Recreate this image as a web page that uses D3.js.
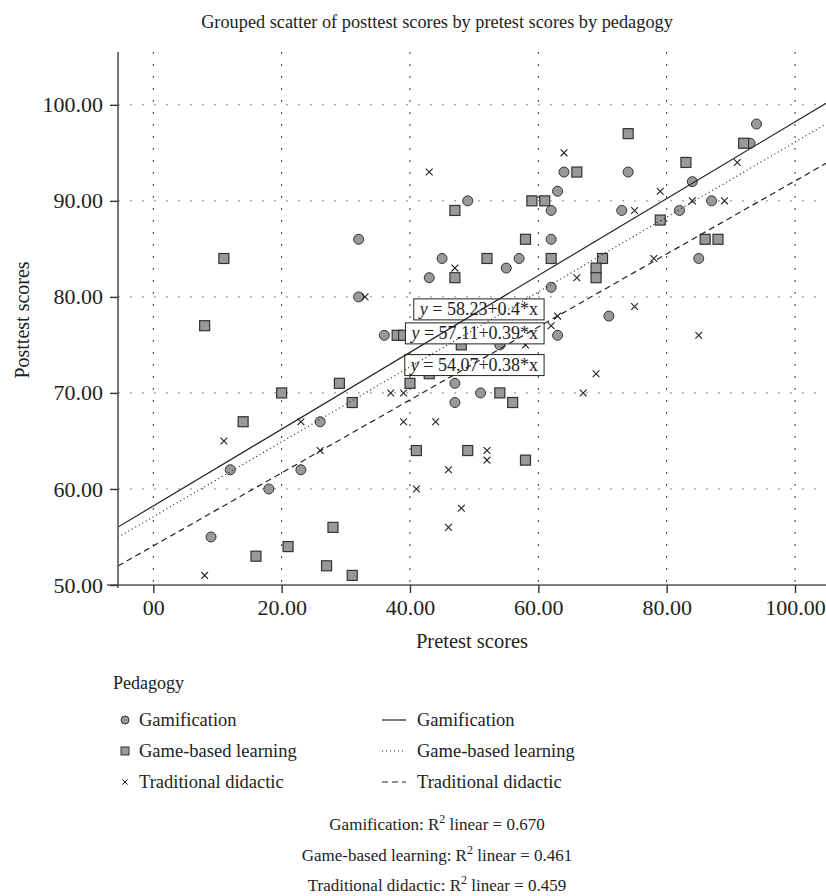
<!DOCTYPE html>
<html>
<head>
<meta charset="utf-8">
<style>
  body { margin: 0; background: #fff; }
  text { font-family: "Liberation Serif", "Times New Roman", serif; fill: #222; }
</style>
</head>
<body>
<svg width="826" height="896"></svg>
<script src="https://cdnjs.cloudflare.com/ajax/libs/d3/7.8.5/d3.min.js"></script>
<script>

    // pretest, posttest pairs per pedagogy
    var gamification = [
        [32,86],[32,80],[49,90],[45,84],[43,82],[55,83],[57,84],[62,89],[63,91],[64,93],
        [62,86],[62,81],[74,93],[94,98],[93,96],[84,92],[73,89],[82,89],[87,90],[85,84],
        [71,78],[26,67],[12,62],[23,62],[18,60],[9,55],[36,76],[63,76],[54,75],[47,71],
        [51,70],[47,69]
    ];
    var gameBased = [
        [11,84],[8,77],[47,89],[47,82],[52,84],[58,86],[59,90],[61,90],[66,93],[62,84],
        [74,97],[83,94],[92,96],[79,88],[86,86],[88,86],[70,84],[69,83],[69,82],[29,71],
        [20,70],[31,69],[14,67],[28,56],[21,54],[16,53],[27,52],[31,51],[38,76],[39,76],
        [48,75],[43,72],[40,71],[54,70],[56,69],[41,64],[49,64],[58,63]
    ];
    var traditional = [
        [43,93],[33,80],[47,83],[64,95],[66,82],[63,78],[62,77],[91,94],[79,91],[75,89],
        [84,90],[89,90],[78,84],[75,79],[23,67],[11,65],[26,64],[8,51],[58,75],[37,70],
        [39,70],[39,67],[44,67],[52,64],[52,63],[46,62],[41,60],[48,58],[46,56],[85,76],
        [69,72],[67,70]
    ];

    var groups = ["Gamification", "Game-based learning", "Traditional didactic"];
    var intercepts = [58.23, 57.11, 54.07];
    var slopes = [0.4, 0.39, 0.38];
    var slopeText = ["0.4", "0.39", "0.38"];
    var rSquared = ["0.670", "0.461", "0.459"];
    // where the equation labels sit (right edge x, centre y) in data units
    var labelAnchors = [[60.9, 78.7], [60.9, 76.2], [60.9, 72.9]];

    var xTicks = [0, 20, 40, 60, 80, 100];
    var xTickLabels = ["00", "20.00", "40.00", "60.00", "80.00", "100.00"];
    var yTicks = [50, 60, 70, 80, 90, 100];
    var yTickLabels = ["50.00", "60.00", "70.00", "80.00", "90.00", "100.00"];

    var svg = d3.select("svg"),
        margin = {top: 52, right: 0, bottom: 311, left: 118},
        width = +svg.attr("width") - margin.left - margin.right,
        height = +svg.attr("height") - margin.top - margin.bottom,
        g = svg.append("g").attr("transform", "translate(" + margin.left + "," + margin.top + ")");

    var x = d3.scaleLinear().domain([-5.5, 104.83]).range([0, width]);
    var y = d3.scaleLinear().domain([50, 105.5]).range([height, 0]);

    svg.append("defs").append("clipPath").attr("id", "plot")
        .append("rect").attr("width", width).attr("height", height);

    // title
    svg.append("text")
        .attr("x", 437).attr("y", 28)
        .attr("text-anchor", "middle")
        .style("font-size", "18.3px")
        .text("Grouped scatter of posttest scores by pretest scores by pedagogy");

    // grid
    g.append("g").selectAll("line").data(xTicks).enter().append("line")
        .attr("x1", function(d) { return x(d); }).attr("x2", function(d) { return x(d); })
        .attr("y1", 0).attr("y2", height)
        .attr("stroke", "#333").attr("stroke-width", 1).attr("stroke-dasharray", "2,10");
    g.append("g").selectAll("line").data(yTicks.slice(1)).enter().append("line")
        .attr("x1", 0).attr("x2", width)
        .attr("y1", function(d) { return y(d); }).attr("y2", function(d) { return y(d); })
        .attr("stroke", "#888").attr("stroke-width", 1).attr("stroke-dasharray", "2,10");

    var fill = "#999", edge = "#333";

    // points
    g.append("g").selectAll("circle").data(gamification).enter().append("circle")
        .attr("cx", function(d) { return x(d[0]); })
        .attr("cy", function(d) { return y(d[1]); })
        .attr("r", 5)
        .attr("fill", fill).attr("stroke", edge).attr("stroke-width", 1);

    g.append("g").selectAll("rect").data(gameBased).enter().append("rect")
        .attr("x", function(d) { return x(d[0]) - 5; })
        .attr("y", function(d) { return y(d[1]) - 5; })
        .attr("width", 10).attr("height", 10)
        .attr("fill", fill).attr("stroke", edge).attr("stroke-width", 1.2);

    var cross = d3.symbol().type(d3.symbolX).size(32);
    g.append("g").selectAll("path").data(traditional).enter().append("path")
        .attr("transform", function(d) { return "translate(" + x(d[0]) + "," + y(d[1]) + ")"; })
        .attr("d", cross)
        .attr("fill", "none").attr("stroke", "#222").attr("stroke-width", 1.1);

    // equation labels
    var labels = g.append("g").selectAll("g").data(groups).enter().append("g")
        .attr("transform", function(d, i) {
            return "translate(" + x(labelAnchors[i][0]) + "," + y(labelAnchors[i][1]) + ")";
        });
    var box = labels.append("rect")
        .attr("fill", "#fff").attr("stroke", "#222").attr("stroke-width", 1);
    var eq = labels.append("text")
        .attr("x", -6).attr("y", 6)
        .attr("text-anchor", "end")
        .style("font-size", "18px");
    eq.append("tspan").style("font-style", "italic").text("y");
    eq.append("tspan").text(function(d, i) { return " = " + intercepts[i].toFixed(2) + "+" + slopeText[i] + "*x"; });
    box.each(function(d, i) {
        var w = eq.nodes()[i].getComputedTextLength() + 12;
        d3.select(this).attr("x", -w).attr("y", -10.5).attr("width", w).attr("height", 21);
    });

    // fit lines
    var dashes = [null, "1,3", "6,4"];
    var xs = x.domain();
    g.append("g").attr("clip-path", "url(#plot)")
        .selectAll("line").data(groups).enter().append("line")
        .attr("x1", x(xs[0])).attr("x2", x(xs[1]))
        .attr("y1", function(d, i) { return y(intercepts[i] + slopes[i] * xs[0]); })
        .attr("y2", function(d, i) { return y(intercepts[i] + slopes[i] * xs[1]); })
        .attr("stroke", "#222").attr("stroke-width", 1.2)
        .attr("stroke-dasharray", function(d, i) { return dashes[i]; });

    // axes
    var xAxis = g.append("g")
        .attr("transform", "translate(0," + height + ")")
        .call(d3.axisBottom(x).tickValues(xTicks)
            .tickFormat(function(d, i) { return xTickLabels[i]; })
            .tickSize(8).tickSizeOuter(0).tickPadding(6));
    xAxis.select(".domain").attr("d", "M-11,0H" + width).attr("stroke", "#555").attr("stroke-width", 1.6);
    xAxis.selectAll(".tick line").attr("stroke", "#333").attr("stroke-width", 1.4);
    xAxis.selectAll("text").attr("font-family", null).style("font-size", "22px").attr("fill", "#222");

    var yAxis = g.append("g")
        .call(d3.axisLeft(y).tickValues(yTicks)
            .tickFormat(function(d, i) { return yTickLabels[i]; })
            .tickSize(8).tickSizeOuter(0).tickPadding(7));
    yAxis.select(".domain").attr("d", "M0,0V" + (height + 3)).attr("stroke", "#555").attr("stroke-width", 1.6);
    yAxis.selectAll(".tick line").attr("stroke", "#333").attr("stroke-width", 1.4);
    yAxis.selectAll("text").attr("font-family", null).style("font-size", "22px").attr("fill", "#222");

    svg.append("text")
        .attr("x", margin.left + width / 2).attr("y", 648)
        .attr("text-anchor", "middle")
        .style("font-size", "20.5px")
        .text("Pretest scores");

    svg.append("text")
        .attr("transform", "translate(29," + 320 + ") rotate(-90)")
        .attr("text-anchor", "middle")
        .style("font-size", "20px")
        .text("Posttest scores");

    // legend
    var legend = svg.append("g").attr("transform", "translate(113,0)");
    legend.append("text").attr("x", 0).attr("y", 689).style("font-size", "18px").text("Pedagogy");

    var rowY = [720, 751, 782];
    var items = legend.selectAll(".item").data(groups).enter().append("g")
        .attr("class", "item")
        .attr("transform", function(d, i) { return "translate(0," + rowY[i] + ")"; });
    items.append("text").attr("x", 26).attr("y", 6).style("font-size", "18.5px").text(function(d) { return d; });
    items.append("text").attr("x", 304).attr("y", 6).style("font-size", "18.5px").text(function(d) { return d; });
    items.append("line")
        .attr("x1", 269).attr("x2", 293).attr("y1", 0).attr("y2", 0)
        .attr("stroke", "#222").attr("stroke-width", 1.2)
        .attr("stroke-dasharray", function(d, i) { return dashes[i]; });
    items.filter(function(d, i) { return i === 0; }).append("circle")
        .attr("cx", 12).attr("r", 4).attr("fill", fill).attr("stroke", edge);
    items.filter(function(d, i) { return i === 1; }).append("rect")
        .attr("x", 8).attr("y", -4).attr("width", 8).attr("height", 8).attr("fill", fill).attr("stroke", edge);
    items.filter(function(d, i) { return i === 2; }).append("path")
        .attr("transform", "translate(12,0)")
        .attr("d", d3.symbol().type(d3.symbolX).size(20))
        .attr("fill", "none").attr("stroke", "#222");

    // R squared notes
    var rRows = [830, 861, 891];
    var notes = svg.append("g").selectAll("text").data(groups).enter().append("text")
        .attr("x", 437).attr("y", function(d, i) { return rRows[i]; })
        .attr("text-anchor", "middle")
        .style("font-size", "17px");
    notes.append("tspan").text(function(d) { return d + ": R"; });
    notes.append("tspan").attr("dy", -7).style("font-size", "12px").text("2");
    notes.append("tspan").attr("dy", 7).text(function(d, i) { return " linear = " + rSquared[i]; });

</script>
</body>
</html>
